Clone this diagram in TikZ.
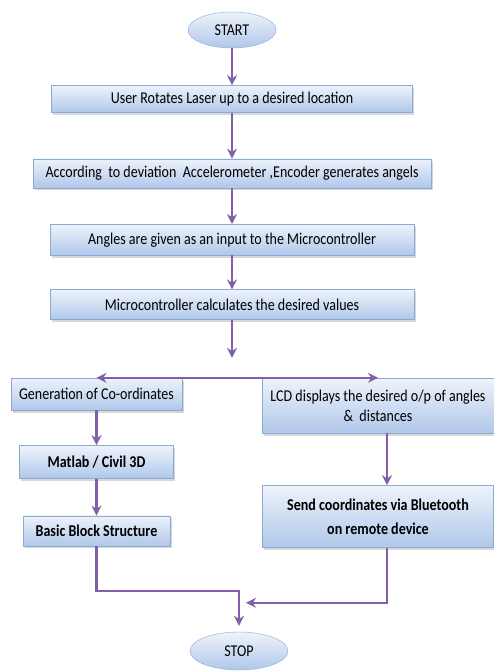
\documentclass[tikz,border=0pt]{standalone}
\usepackage{fontspec}
\setmainfont{Carlito}[FakeStretch=0.85]
\usetikzlibrary{shapes,arrows,arrows.meta,positioning,calc,shadows}

\definecolor{boxline}{RGB}{141,170,212}
\definecolor{boxtop}{RGB}{238,243,251}
\definecolor{boxbot}{RGB}{176,199,234}
\definecolor{flow}{RGB}{128,96,166}

\begin{document}
\begin{tikzpicture}[
      node distance = 36pt and 20pt,
      font=\fontsize{16.5}{20}\selectfont,
      startstop/.style = {ellipse,draw=boxline,top color=boxtop,bottom color=boxbot,minimum width=88pt,minimum height=36pt,inner sep=0pt},
      process/.style = {rectangle,draw=boxline,top color=boxtop,bottom color=boxbot,drop shadow={shadow xshift=1.5pt,shadow yshift=-2.5pt,fill=gray!60},inner sep=2pt,align=center},
      arrow/.style = {-{Stealth[length=10pt,width=10pt]},draw=flow,line width=2.5pt}
    ]
      \useasboundingbox (0,0) rectangle (494pt,-671pt);
      \node (start)[startstop] at (232pt,-30pt) {START};
      \node (rotate)[process,below = 37pt of start,minimum width=361pt,minimum height=27pt]{User Rotates Laser up to a desired location};
      \node (angles)[process,below = 46pt of rotate,minimum width=398pt,minimum height=29pt]{According\ \ to deviation\ \ Accelerometer ,Encoder generates angels};
      \node (input)[process,below = 36pt of angles,minimum width=364pt,minimum height=31pt]{Angles are given as an input to\ the Microcontroller};
      \node (calc)[process,below = 34pt of input,minimum width=364pt,minimum height=30pt]{Microcontroller calculates the desired values};
      \coordinate (split) at ([yshift=-38pt]calc.south);
      \node (coords)[process,minimum width=171pt,minimum height=32pt] at (96.5pt,-394pt){Generation of Co-ordinates};
      \node (lcd)[process,minimum width=232pt,minimum height=55pt] at (378pt,-405.5pt){LCD displays the desired o/p of angles\\ \&\ \ distances};
      \node (matlab)[process,below = 35pt of coords,minimum width=154pt,minimum height=33pt]{\bfseries Matlab / Civil 3D};
      \node (block)[process,below = 37pt of matlab,minimum width=147pt,minimum height=30pt]{\bfseries Basic Block Structure};
      \node (send)[process,below = 52pt of lcd,minimum width=231pt,minimum height=62pt,font=\fontsize{16.5}{24}\selectfont\bfseries]{Send coordinates via Bluetooth\\ on remote device};
      \node (stop)[startstop,minimum width=98pt,minimum height=38pt] at (239pt,-651pt){STOP};
      \draw [arrow] (start) -- (rotate);
      \draw [arrow] (rotate) -- (angles);
      \draw [arrow] (angles) -- (input);
      \draw [arrow] (input) -- (calc);
      \draw [arrow] (calc) -- (split);
      \draw [arrow,{Stealth[length=10pt,width=10pt]}-{Stealth[length=10pt,width=10pt]}] (coords.north) -- (lcd.north);
      \draw [arrow] (coords) -- (matlab);
      \draw [arrow] (matlab) -- (block);
      \draw [arrow] ([xshift=9pt]lcd.south) -- ([xshift=9pt]send.north);
      \draw [arrow] (block.south) -- ++(0,-45pt) -| ([yshift=6pt]stop.north);
      \draw [arrow] ([xshift=9pt]send.south) |- ($(stop.north)+(7pt,29pt)$);
    \end{tikzpicture}
\end{document}
